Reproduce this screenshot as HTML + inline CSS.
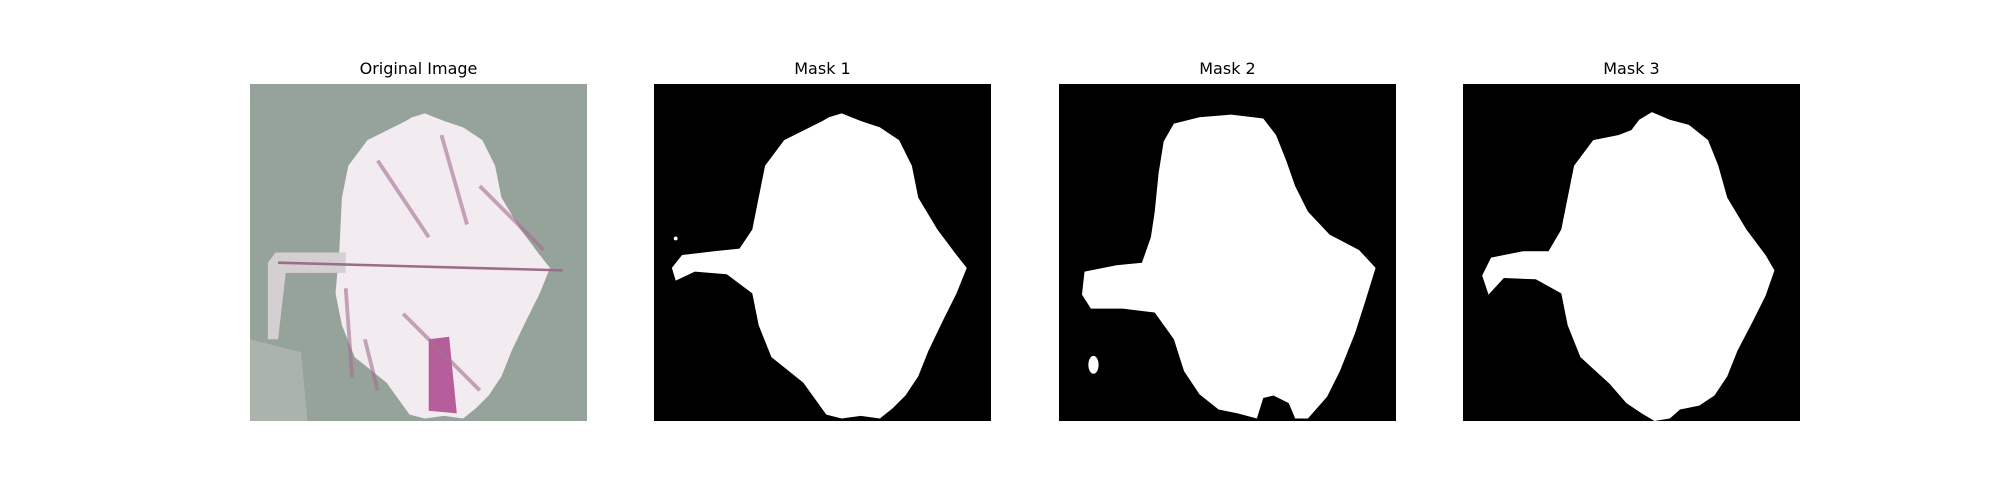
<!DOCTYPE html>
<html><head><meta charset="utf-8"><style>
body{margin:0;background:#fff;width:2000px;height:500px;overflow:hidden;font-family:"DejaVu Sans","Liberation Sans",sans-serif}
.t{position:absolute;top:59px;width:337px;text-align:center;font-size:16px;color:#000}
svg.p{position:absolute;top:84px;width:337px;height:337px}
</style></head><body>
<div class="t" style="left:250px">Original Image</div>
<div class="t" style="left:654px">Mask 1</div>
<div class="t" style="left:1059px">Mask 2</div>
<div class="t" style="left:1463px">Mask 3</div>

<svg class="p" style="left:250px" viewBox="0 0 264 264">
<rect width="264" height="264" fill="#95a39b"/>
<path d="M137,26 L147,23 L162,29 L177,34 L192,44 L202,64 L207,89 L222,114 L237,134 L245,144 L237,164 L227,184 L215,209 L207,229 L197,244 L187,254 L177,262 L162,260 L147,262 L135,259 L117,234 L92,214 L82,189 L77,164 L80,130 L82,89 L87,64 L102,44 L122,34 L132,29 Z" fill="#f2ebef" transform="translate(-10,0)"/>
<path d="M20,132 L75,132 L75,148 L28,148 L22,200 L14,200 L14,140 Z" fill="#d4d0d2"/>
<path d="M22,140 L245,146" stroke="#9b6d88" stroke-width="2"/>
<path d="M140,200 L156,198 L162,258 L140,256 Z" fill="#b65e9c"/>
<path d="M100,60 L140,120 M150,40 L170,110 M120,180 L180,240 M180,80 L230,130 M90,200 L100,240 M75,160 L80,230" stroke="#a56f92" stroke-width="3" opacity="0.6"/>
<path d="M0,200 L40,210 L45,264 L0,264 Z" fill="#c3c9c4" opacity="0.45"/>
</svg>

<svg class="p" style="left:654px" viewBox="0 0 264 264">
<rect width="264" height="264" fill="#000"/>
<path d="M137,26 L147,23 L162,29 L177,34 L192,44 L202,64 L207,89 L222,114 L237,134 L245,144 L237,164 L227,184 L215,209 L207,229 L197,244 L187,254 L177,262 L162,260 L147,262 L135,259 L117,234 L92,214 L82,189 L77,164 L57,149 L32,147 L17,154 L14,144 L22,134 L47,131 L67,129 L77,114 L82,89 L87,64 L102,44 L122,34 L132,29 Z" fill="#fff"/>
<circle cx="17" cy="121" r="1.5" fill="#fff"/>
</svg>

<svg class="p" style="left:1059px" viewBox="0 0 264 264">
<rect width="264" height="264" fill="#000"/>
<path d="M90,31 L110,26 L135,24 L160,27 L170,40 L178,60 L185,80 L195,100 L212,118 L235,130 L248,144 L240,170 L232,195 L220,225 L210,245 L195,262 L185,262 L180,250 L168,244 L160,246 L155,262 L140,258 L125,255 L110,243 L98,225 L90,200 L75,179 L50,176 L25,176 L18,165 L20,147 L45,142 L65,140 L72,120 L75,100 L78,70 L82,45 Z" fill="#fff"/>
<ellipse cx="27" cy="220" rx="4" ry="7" fill="#fff"/>
</svg>

<svg class="p" style="left:1463px" viewBox="0 0 264 264">
<rect width="264" height="264" fill="#000"/>
<path d="M138,28 L148,22 L162,28 L177,32 L192,44 L200,64 L207,89 L222,114 L237,134 L244,146 L237,166 L227,186 L215,209 L207,229 L197,244 L185,252 L170,255 L162,262 L150,264 L140,258 L128,250 L115,235 L92,214 L82,189 L77,164 L57,153 L32,152 L20,165 L15,150 L22,136 L47,131 L67,131 L77,114 L82,89 L87,64 L102,44 L122,40 L132,36 Z" fill="#fff"/>
</svg>
</body></html>
